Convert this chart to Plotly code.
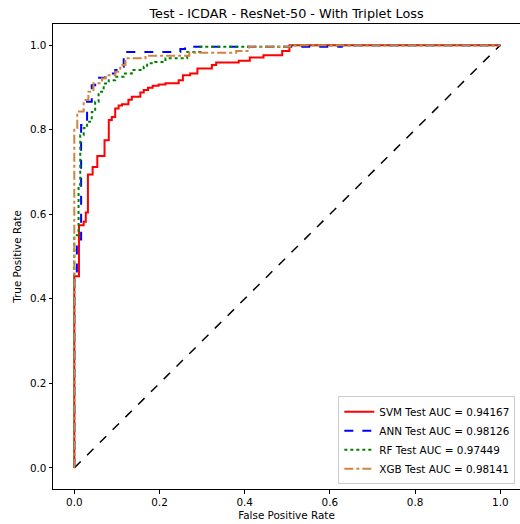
import plotly.graph_objects as go

# ---- data (step vertices of ROC curves) ----
svm_fpr = [0, 0, 0.011, 0.011, 0.022, 0.022, 0.027, 0.027, 0.032, 0.032, 0.043, 0.043, 0.054, 0.054,
           0.071, 0.071, 0.081, 0.081, 0.088, 0.088, 0.096, 0.096, 0.104, 0.104, 0.112, 0.112,
           0.127, 0.127, 0.135, 0.135, 0.155, 0.155, 0.163, 0.163, 0.173, 0.173, 0.184, 0.184,
           0.198, 0.198, 0.214, 0.214, 0.228, 0.228, 0.245, 0.245, 0.255, 0.255, 0.272, 0.272,
           0.289, 0.289, 0.323, 0.323, 0.333, 0.333, 0.386, 0.386, 0.412, 0.412, 0.444, 0.444,
           0.488, 0.488, 0.505, 0.505, 1.0]
svm_tpr = [0, 0.453, 0.453, 0.574, 0.574, 0.582, 0.582, 0.604, 0.604, 0.694, 0.694, 0.712, 0.712, 0.738,
           0.738, 0.775, 0.775, 0.823, 0.823, 0.830, 0.830, 0.850, 0.850, 0.857, 0.857, 0.860,
           0.860, 0.871, 0.871, 0.878, 0.878, 0.888, 0.888, 0.894, 0.894, 0.899, 0.899, 0.904,
           0.904, 0.907, 0.907, 0.910, 0.910, 0.910, 0.910, 0.917, 0.917, 0.929, 0.929, 0.933,
           0.933, 0.945, 0.945, 0.953, 0.953, 0.959, 0.959, 0.963, 0.963, 0.971, 0.971, 0.976,
           0.976, 0.986, 0.986, 1.0, 1.0]

ann_fpr = [0, 0, 0.006, 0.006, 0.016, 0.016, 0.030, 0.030, 0.041, 0.041, 0.049, 0.049, 0.073, 0.073,
           0.096, 0.096, 0.104, 0.104, 0.116, 0.116, 0.124, 0.124, 0.249, 0.249, 0.260, 0.260,
           0.628, 0.628, 1.0]
ann_tpr = [0, 0.45, 0.45, 0.54, 0.54, 0.811, 0.811, 0.866, 0.866, 0.905, 0.905, 0.923, 0.923, 0.933,
           0.933, 0.941, 0.941, 0.949, 0.949, 0.969, 0.969, 0.984, 0.984, 0.991, 0.991, 0.996,
           0.996, 1.0, 1.0]

rf_fpr = [0, 0, 0.010, 0.010, 0.014, 0.014, 0.022, 0.022, 0.030, 0.030, 0.041, 0.041, 0.049, 0.049,
          0.057, 0.057, 0.069, 0.069, 0.081, 0.081, 0.096, 0.096, 0.116, 0.116, 0.135, 0.135,
          0.163, 0.163, 0.171, 0.171, 0.190, 0.190, 0.214, 0.214, 0.265, 0.265, 0.296, 0.296,
          0.507, 0.507, 1.0]
rf_tpr = [0, 0.55, 0.55, 0.67, 0.67, 0.787, 0.787, 0.804, 0.804, 0.819, 0.819, 0.842, 0.842, 0.866,
          0.866, 0.890, 0.890, 0.909, 0.909, 0.917, 0.917, 0.925, 0.925, 0.933, 0.933, 0.941,
          0.941, 0.949, 0.949, 0.957, 0.957, 0.960, 0.960, 0.969, 0.969, 0.984, 0.984, 0.996,
          0.996, 1.0, 1.0]

xgb_fpr = [0, 0, 0.007, 0.007, 0.022, 0.022, 0.033, 0.033, 0.045, 0.045, 0.065, 0.065, 0.073, 0.073,
           0.096, 0.096, 0.108, 0.108, 0.120, 0.120, 0.167, 0.167, 0.270, 0.270, 0.380, 0.380,
           0.410, 0.410, 0.507, 0.507, 1.0]
xgb_tpr = [0, 0.80, 0.80, 0.843, 0.843, 0.870, 0.870, 0.890, 0.890, 0.910, 0.910, 0.921, 0.921, 0.929,
           0.929, 0.937, 0.937, 0.953, 0.953, 0.969, 0.969, 0.975, 0.975, 0.982, 0.982, 0.986,
           0.986, 0.996, 0.996, 1.0, 1.0]

diag = [0, 1]

names = ["SVM Test AUC = 0.94167", "ANN Test AUC = 0.98126",
         "RF Test AUC = 0.97449", "XGB Test AUC = 0.98141"]
title = "Test - ICDAR - ResNet-50 - With Triplet Loss"
ticks = [0, 0.2, 0.4, 0.6, 0.8, 1.0]

FONT = "DejaVu Sans"
FS = 10.4

fig = go.Figure()
fig.add_trace(go.Scatter(x=diag, y=diag, mode="lines", showlegend=False,
                         line=dict(color="black", width=1.5, dash="dash")))
fig.add_trace(go.Scatter(x=svm_fpr, y=svm_tpr, mode="lines", name=names[0],
                         line=dict(color="red", width=2)))
fig.add_trace(go.Scatter(x=ann_fpr, y=ann_tpr, mode="lines", name=names[1],
                         line=dict(color="blue", width=2, dash="dash")))
fig.add_trace(go.Scatter(x=rf_fpr, y=rf_tpr, mode="lines", name=names[2],
                         line=dict(color="green", width=2, dash="dot")))
fig.add_trace(go.Scatter(x=xgb_fpr, y=xgb_tpr, mode="lines", name=names[3],
                         line=dict(color="peru", width=2, dash="dashdot")))

axis_common = dict(showline=True, linecolor="black", linewidth=1, mirror=True,
                   ticks="outside", ticklen=3.5, tickcolor="black", showgrid=False,
                   zeroline=False, tickvals=ticks, tickformat=".1f",
                   tickfont=dict(family=FONT, size=FS, color="black"))

fig.update_layout(
    width=520, height=524,
    margin=dict(l=53, r=0, t=24, b=35),
    plot_bgcolor="white", paper_bgcolor="white",
    title=dict(text=title, x=0.5, xanchor="center", xref="paper", y=1, yanchor="bottom", yref="paper",
               pad=dict(b=6), font=dict(family=FONT, size=12.8, color="black")),
    xaxis=dict(range=[-0.05, 1.0463], title=dict(text="False Positive Rate", standoff=4,
               font=dict(family=FONT, size=FS, color="black")), **axis_common),
    yaxis=dict(range=[-0.05, 1.05], title=dict(text="True Positive Rate", standoff=6,
               font=dict(family=FONT, size=FS, color="black")), **axis_common),
    legend=dict(x=0.99, y=0.01, xanchor="right", yanchor="bottom",
                bgcolor="rgba(255,255,255,0.8)", bordercolor="#cccccc", borderwidth=1,
                font=dict(family=FONT, size=FS, color="black"), tracegroupgap=0,
                itemwidth=30),
)

fig.write_html("out.html")
